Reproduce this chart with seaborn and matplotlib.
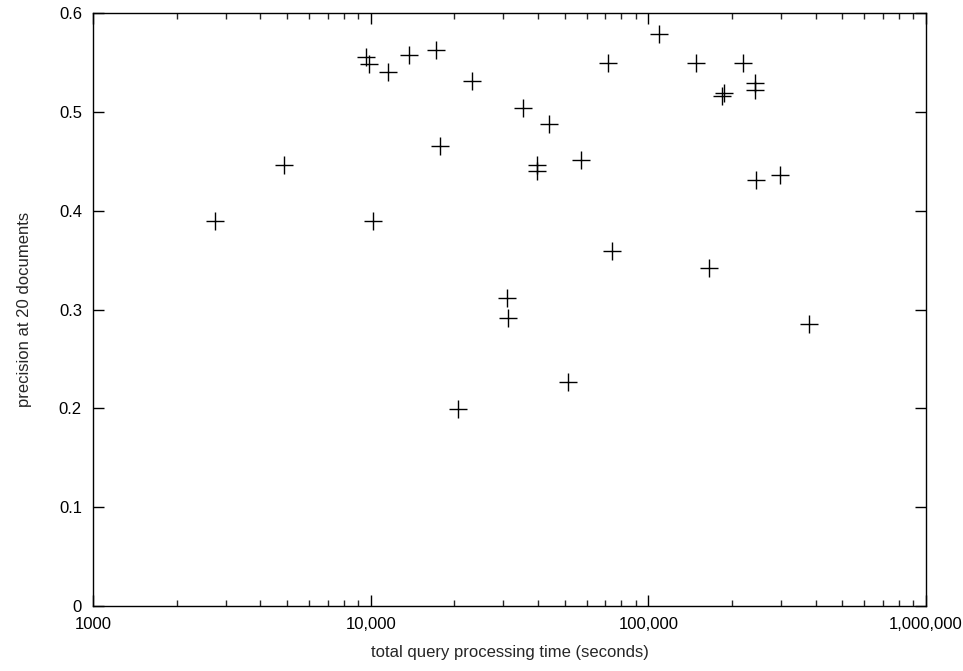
import matplotlib
matplotlib.use("Agg")
import matplotlib.pyplot as plt
import matplotlib.ticker as mticker
import numpy as np
import pandas as pd
import seaborn as sns

# query time (seconds) vs precision at 20 documents
times = [2740, 4890, 9590, 9890, 10220, 11570, 13700, 17190, 17720, 20690,
         23220, 31040, 31300, 35350, 39600, 39600, 43750, 51480, 57050, 71730,
         74130, 109500, 148400, 164900, 183600, 186700, 219700, 242000, 242000,
         244700, 297100, 377700]
precision = [0.390, 0.446, 0.556, 0.549, 0.390, 0.541, 0.558, 0.563, 0.466, 0.199,
             0.531, 0.312, 0.292, 0.504, 0.446, 0.440, 0.488, 0.227, 0.451, 0.550,
             0.359, 0.579, 0.550, 0.342, 0.516, 0.519, 0.550, 0.529, 0.522,
             0.431, 0.436, 0.285]

xtick_vals = [1000, 10000, 100000, 1000000]
xtick_labels = ["1000", "10,000", "100,000", "1,000,000"]

df = pd.DataFrame({"time": times, "p20": precision})

sns.set_theme(style="white")
plt.rcParams["font.family"] = ["Liberation Sans", "DejaVu Sans"]
plt.rcParams["font.size"] = 12

fig = plt.figure(figsize=(9.63, 6.71), dpi=100)
ax = fig.add_axes([0.0966, 0.0969, 0.8650, 0.8833])

sns.scatterplot(data=df, x="time", y="p20", marker="+", s=150, color="black",
                linewidth=1.0, ax=ax, legend=False)

ax.set_xscale("log")
ax.set_xlim(1000, 1000000)
ax.set_ylim(0, 0.6)
ax.set_xticks(xtick_vals)
ax.set_xticklabels(xtick_labels)
ax.xaxis.set_minor_locator(mticker.LogLocator(base=10, subs=np.arange(2, 10)))
ax.xaxis.set_minor_formatter(mticker.NullFormatter())
ax.set_yticks(np.arange(0, 0.61, 0.1))
ax.yaxis.set_major_formatter(mticker.FuncFormatter(lambda v, p: "0" if v == 0 else f"{v:.1f}"))

ax.tick_params(which="both", bottom=True, left=True, top=True, right=True)
ax.tick_params(which="major", direction="in", length=8, width=1,
               labelsize=12, colors="black", pad=8)
ax.tick_params(which="minor", direction="in", length=4.5, width=1)
for sp in ax.spines.values():
    sp.set_color("black")
    sp.set_linewidth(1)

ax.set_xlabel("total query processing time (seconds)", fontsize=12, labelpad=9)
ax.set_ylabel("precision at 20 documents", fontsize=12, labelpad=19)

fig.savefig("out.png", dpi=100)
